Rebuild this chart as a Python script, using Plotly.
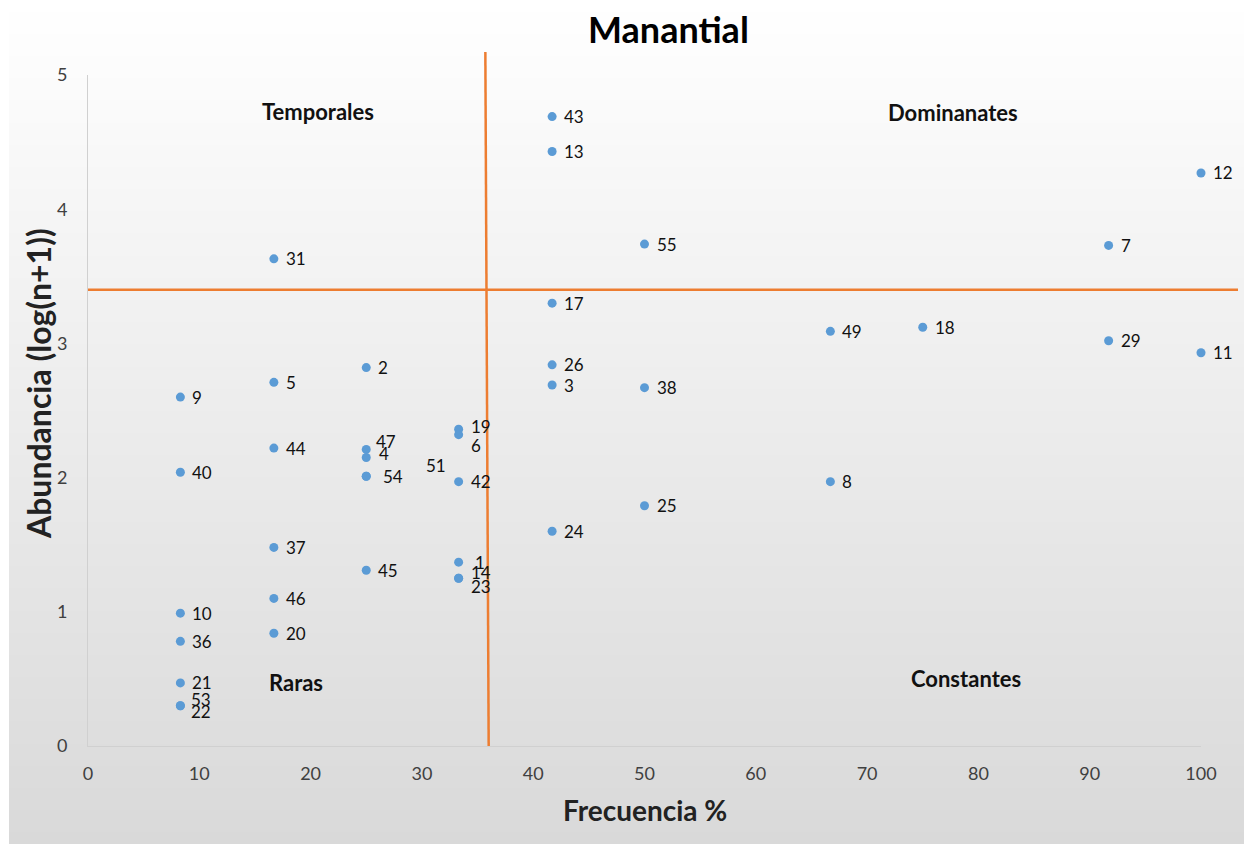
import base64
import struct
import zlib

import plotly.graph_objects as go

# ---------------- data ----------------
species = [43, 13, 12, 55, 7, 31, 17, 49, 18, 29, 11, 26, 2, 5, 3, 38, 9, 19, 6,
           47, 4, 51, 44, 54, 40, 42, 8, 25, 24, 37, 1, 14, 23, 45, 46, 10, 20,
           36, 21, 53, 22]
frecuencia = [41.7, 41.7, 100, 50, 91.7, 16.7, 41.7, 66.7, 75, 91.7, 100, 41.7,
              25, 16.7, 41.7, 50, 8.3, 33.3, 33.3, 25, 25, 25, 16.7, 25, 8.3,
              33.3, 66.7, 50, 41.7, 16.7, 33.3, 33.3, 33.3, 25, 16.7, 8.3, 16.7,
              8.3, 8.3, 8.3, 8.3]
abundancia = [4.69, 4.43, 4.27, 3.74, 3.73, 3.63, 3.30, 3.09, 3.12, 3.02, 2.93,
              2.84, 2.82, 2.71, 2.69, 2.67, 2.60, 2.36, 2.32, 2.21, 2.15, 2.01,
              2.22, 2.01, 2.04, 1.97, 1.97, 1.79, 1.60, 1.48, 1.37, 1.25, 1.25,
              1.31, 1.10, 0.99, 0.84, 0.78, 0.47, 0.30, 0.30]
x_ticks = [0, 10, 20, 30, 40, 50, 60, 70, 80, 90, 100]
y_ticks = [0, 1, 2, 3, 4, 5]
freq_cut_bottom = 36.0
freq_cut_top = 35.7
abund_cut = 3.40
quadrants = ["Temporales", "Dominanates", "Raras", "Constantes"]

# ---------------- layout geometry / styles ----------------
OFF = 8                      # page body margin
W, H = 1252 - OFF, 844 - OFF
ML, MR, MT, MB = 88 - OFF, 51, 75 - OFF, 98
X_RANGE = [0, 100]
Y_RANGE = [0, 5]
PW, PH = W - ML - MR, H - MT - MB


def px_to_paper_x(px):
    """reference-image pixel x -> paper coordinate"""
    return (px - OFF - ML) / PW


def px_to_paper_y(py):
    """reference-image pixel y -> paper coordinate"""
    return (H - MB - (py - OFF)) / PH


def dx_paper(v):
    return (v - X_RANGE[0]) / (X_RANGE[1] - X_RANGE[0])


def dy_paper(v):
    return (v - Y_RANGE[0]) / (Y_RANGE[1] - Y_RANGE[0])


# label nudges (pixels) for overlapping labels
label_nudge = {
    19: (0, 3), 6: (0, -11), 47: (-2, 8), 4: (1, 4), 51: (48, 11),
    54: (5, 0), 14: (0, 6), 23: (0, -8), 53: (-1, 6), 22: (-1, -6),
    1: (4, 0),
}


# gradient background image (white -> light gray)
def gradient_png(h, top, bot):
    rows = []
    for i in range(h):
        t = i / (h - 1)
        c = bytes(int(round(top[k] + (bot[k] - top[k]) * t)) for k in range(3))
        rows.append(b"\x00" + c)
    raw = b"".join(rows)

    def chunk(tag, data):
        return (struct.pack(">I", len(data)) + tag + data +
                struct.pack(">I", zlib.crc32(tag + data) & 0xFFFFFFFF))

    png = (b"\x89PNG\r\n\x1a\n" +
           chunk(b"IHDR", struct.pack(">IIBBBBB", 1, h, 8, 2, 0, 0, 0)) +
           chunk(b"IDAT", zlib.compress(raw)) + chunk(b"IEND", b""))
    return "data:image/png;base64," + base64.b64encode(png).decode()


FONT = "Lato, 'Open Sans', sans-serif"
ORANGE = "#ED7D31"
BLUE = "#5B9BD5"

fig = go.Figure()
fig.add_trace(go.Scatter(
    x=frecuencia, y=abundancia, mode="markers",
    marker=dict(color=BLUE, size=9, line=dict(width=0)),
    hovertext=[str(s) for s in species], hoverinfo="text+x+y",
    showlegend=False, cliponaxis=False,
))

annotations = []
for s, fx, ay in zip(species, frecuencia, abundancia):
    nx, ny = label_nudge.get(s, (0, 0))
    annotations.append(dict(
        x=fx, y=ay, xref="x", yref="y", text=str(s), showarrow=False,
        xanchor="left", yanchor="middle", xshift=10 + nx, yshift=ny,
        font=dict(family=FONT, size=17, color="#111111"),
    ))

quad_pos = [(20.7, 4.73), (77.7, 4.72), (18.7, 0.47), (78.9, 0.50)]
for q, (qx, qy) in zip(quadrants, quad_pos):
    annotations.append(dict(
        x=qx, y=qy, xref="x", yref="y", text=f"<b>{q}</b>", showarrow=False,
        xanchor="center", yanchor="middle",
        font=dict(family=FONT, size=22, color="#111111"),
    ))

# title and axis titles
annotations.append(dict(
    x=px_to_paper_x(668), y=px_to_paper_y(29), xref="paper", yref="paper",
    text="<b>Manantial</b>", showarrow=False, xanchor="center", yanchor="middle",
    font=dict(family=FONT, size=36, color="#000000"),
))
annotations.append(dict(
    x=px_to_paper_x(645), y=px_to_paper_y(810), xref="paper", yref="paper",
    text="<b>Frecuencia %</b>", showarrow=False, xanchor="center", yanchor="middle",
    font=dict(family=FONT, size=28, color="#222222"),
))
annotations.append(dict(
    x=px_to_paper_x(38), y=px_to_paper_y(384), xref="paper", yref="paper",
    text="<b>Abundancia (log(n+1))</b>", showarrow=False, textangle=-90,
    xanchor="center", yanchor="middle",
    font=dict(family=FONT, size=32, color="#222222"),
))

shapes = [
    # vertical threshold
    dict(type="line", xref="paper", yref="paper",
         x0=dx_paper(freq_cut_bottom), y0=0,
         x1=dx_paper(freq_cut_top), y1=px_to_paper_y(52),
         line=dict(color=ORANGE, width=2.5), layer="above"),
    # horizontal threshold
    dict(type="line", xref="paper", yref="paper",
         x0=0, y0=dy_paper(abund_cut), x1=px_to_paper_x(1238), y1=dy_paper(abund_cut),
         line=dict(color=ORANGE, width=2.5), layer="above"),
]

fig.update_layout(
    width=W, height=H,
    margin=dict(l=ML, r=MR, t=MT, b=MB),
    paper_bgcolor="#ffffff",
    plot_bgcolor="rgba(0,0,0,0)",
    font=dict(family=FONT),
    annotations=annotations,
    shapes=shapes,
    images=[dict(
        source=gradient_png(844, (255, 255, 255), (217, 217, 217)),
        xref="paper", yref="paper",
        x=px_to_paper_x(9), y=px_to_paper_y(0),
        sizex=(1252 - 9) / PW, sizey=844 / PH,
        xanchor="left", yanchor="top", sizing="stretch", layer="below",
    )],
    xaxis=dict(
        range=X_RANGE, tickvals=x_ticks, ticktext=[str(v) for v in x_ticks],
        showgrid=False, zeroline=False, showline=True, linecolor="#D0D0D0",
        linewidth=1, ticks="", ticklabelstandoff=11,
        tickfont=dict(family=FONT, size=18, color="#404040"),
    ),
    yaxis=dict(
        range=Y_RANGE, tickvals=y_ticks, ticktext=[str(v) for v in y_ticks],
        showgrid=False, zeroline=False, showline=True, linecolor="#D0D0D0",
        linewidth=1, ticks="", ticklabelstandoff=16,
        tickfont=dict(family=FONT, size=18, color="#404040"),
    ),
)

fig.write_html("out.html")
